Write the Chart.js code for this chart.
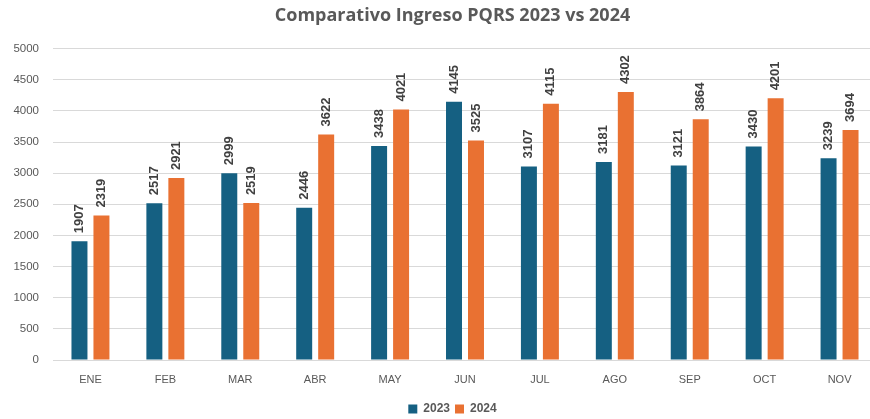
<!DOCTYPE html>
<html>
<head>
<meta charset="utf-8">
<script src="https://cdn.jsdelivr.net/npm/chart.js@4.4.1/dist/chart.umd.min.js"></script>
<style>
  html, body { margin: 0; padding: 0; background: #fff; overflow: hidden; }
  #wrap { width: 905px; height: 419px; }
</style>
</head>
<body>
<div id="wrap"><canvas id="pqrs"></canvas></div>
<script>
const meses = ['ENE', 'FEB', 'MAR', 'ABR', 'MAY', 'JUN', 'JUL', 'AGO', 'SEP', 'OCT', 'NOV'];
const ingreso2023 = [1907, 2517, 2999, 2446, 3438, 4145, 3107, 3181, 3121, 3430, 3239];
const ingreso2024 = [2319, 2921, 2519, 3622, 4021, 3525, 4115, 4302, 3864, 4201, 3694];

const gris = '#595959';
const fuente = '"Liberation Sans", Arial, sans-serif';

// numbers written vertically above each bar
const valoresBarras = {
  id: 'valoresBarras',
  afterDatasetsDraw(chart) {
    const ctx = chart.ctx;
    ctx.save();
    ctx.font = 'bold 13px ' + fuente;
    ctx.fillStyle = '#404040';
    ctx.textAlign = 'left';
    ctx.textBaseline = 'middle';
    chart.data.datasets.forEach((ds, i) => {
      chart.getDatasetMeta(i).data.forEach((bar, j) => {
        ctx.save();
        ctx.translate(bar.x, bar.y - 8);
        ctx.rotate(-Math.PI / 2);
        ctx.fillText(ds.data[j], 0, 0);
        ctx.restore();
      });
    });
    ctx.restore();
  }
};

new Chart(document.getElementById('pqrs'), {
  type: 'bar',
  data: {
    labels: meses,
    datasets: [
      { label: '2023', data: ingreso2023, backgroundColor: '#156082' },
      { label: '2024', data: ingreso2024, backgroundColor: '#E97132' }
    ]
  },
  options: {
    responsive: true,
    maintainAspectRatio: false,
    animation: false,
    datasets: { bar: { categoryPercentage: 0.587, barPercentage: 0.727 } },
    layout: { padding: { left: 0, right: 0, top: 0, bottom: -6 } },
    plugins: {
      title: {
        display: true,
        text: 'Comparativo Ingreso PQRS 2023 vs 2024',
        color: gris,
        font: { family: '"Open Sans", sans-serif', size: 18, weight: 'bold' },
        padding: { top: 5, bottom: 22 }
      },
      legend: {
        position: 'bottom',
        labels: {
          color: gris,
          boxWidth: 9,
          boxHeight: 9,
          padding: 5,
          font: { family: fuente, size: 12, weight: 'bold' }
        }
      },
      tooltip: { enabled: false }
    },
    scales: {
      x: {
        grid: { display: false },
        border: { color: '#d9d9d9' },
        afterFit: s => { s.height = 38; },
        ticks: {
          color: gris,
          padding: 5,
          font: { family: fuente, size: 11 }
        }
      },
      y: {
        min: 0,
        max: 5000,
        afterFit: s => { s.width = 53; },
        ticks: {
          stepSize: 500,
          color: gris,
          padding: 14,
          callback: v => String(v),
          font: { family: fuente, size: 11.5 }
        },
        grid: { color: '#d9d9d9', drawTicks: false },
        border: { display: false }
      },
      // empty strip on the right so the plot runs past the visible edge
      margen: {
        type: 'linear',
        position: 'right',
        afterFit: s => { s.width = 28; },
        grid: { display: false },
        ticks: { display: false },
        border: { display: false }
      }
    }
  },
  plugins: [valoresBarras]
});
</script>
</body>
</html>
